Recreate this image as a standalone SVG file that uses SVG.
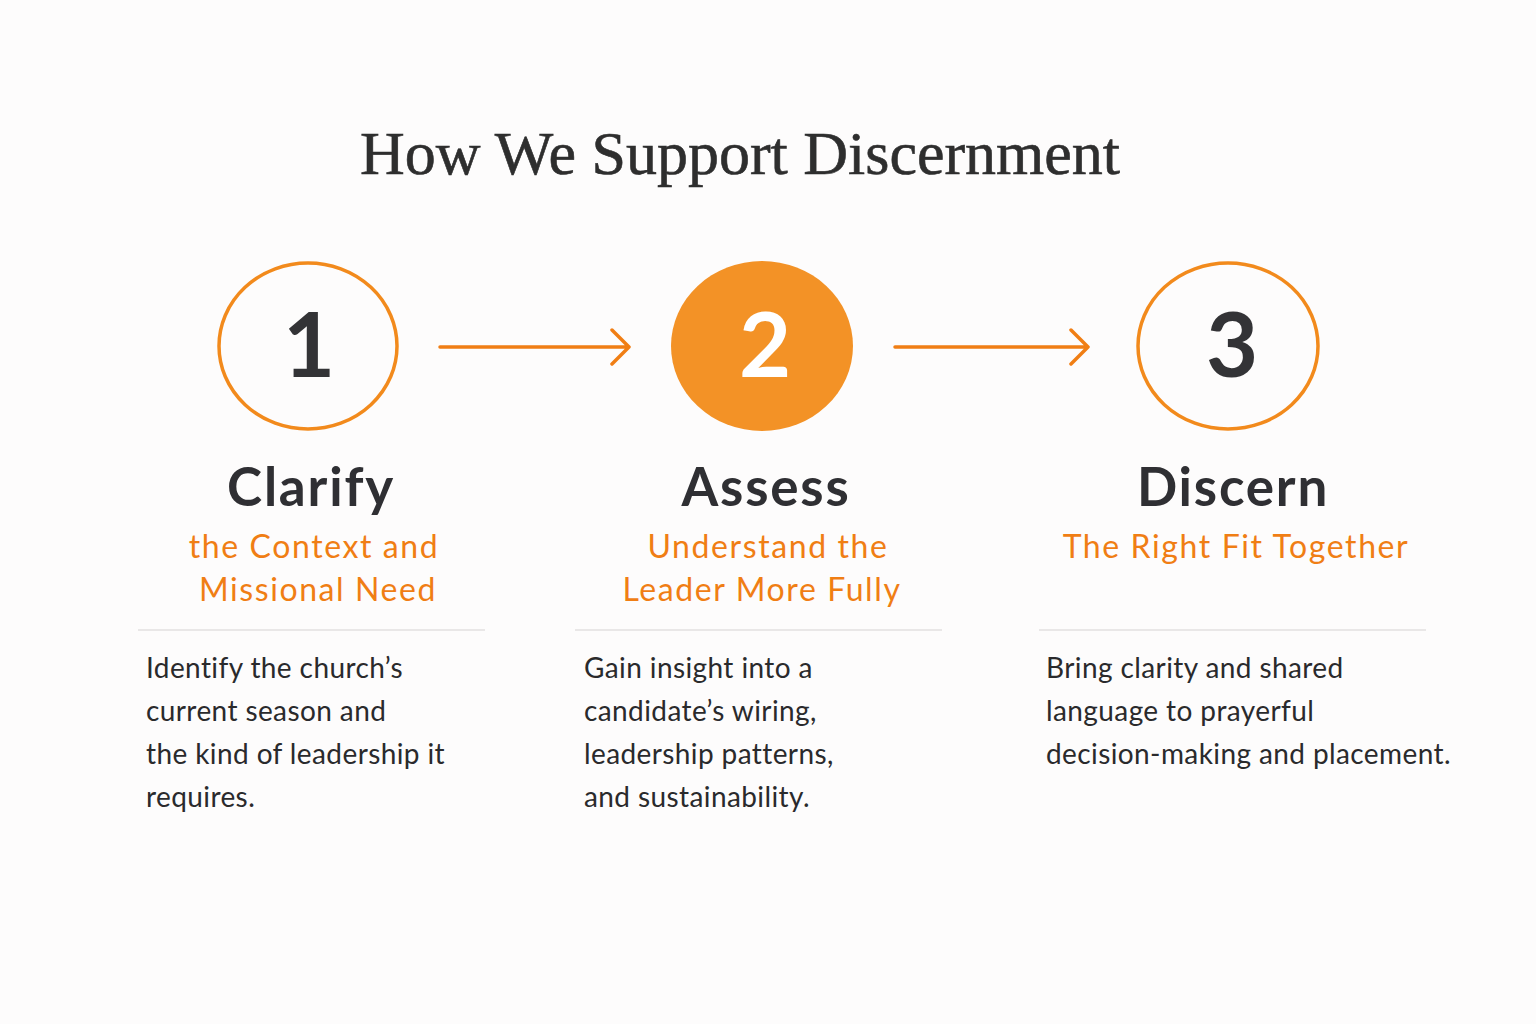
<svg xmlns="http://www.w3.org/2000/svg" width="1536" height="1024" viewBox="0 0 1536 1024">
<defs>
<style>
.title{font-family:"Liberation Serif","Times New Roman",serif;font-size:62px;fill:#2e2e2e;text-anchor:middle;stroke:#2e2e2e;stroke-width:0.6}
.ring{fill:none;stroke:#f28a1c;stroke-width:3.5}
.fill{fill:#f39226;stroke:none}
.num{font-family:"Lato","Open Sans",sans-serif;font-size:90px;font-weight:700;text-anchor:middle;fill:#333336}
.numw{fill:#ffffff}
.head{font-family:"Lato","Open Sans",sans-serif;font-size:53px;font-weight:700;fill:#2f2f33;text-anchor:middle;letter-spacing:1.8px}
.sub{font-family:"Lato","Open Sans",sans-serif;font-size:32px;fill:#f07e14;text-anchor:middle;letter-spacing:1.6px}
.body{font-family:"Lato","Open Sans",sans-serif;font-size:28px;fill:#2a2a2c;letter-spacing:0.4px}
.rule{stroke:#e2e0e0;stroke-width:1.5}
.conn{stroke:#f07e14;stroke-width:3.5;fill:none;stroke-linecap:round;stroke-linejoin:round}
</style>
</defs>
<rect width="1536" height="1024" fill="#fdfcfc"/>
<text class="title" x="740" y="174">How We Support Discernment</text>

<g id="connectors">
<path class="conn" d="M440 347 H629 M612 330 L629 347 L612 364"/>
<path class="conn" d="M895 347 H1088 M1071 330 L1088 347 L1071 364"/>
</g>

<g id="step1">
<ellipse class="ring" cx="308" cy="346" rx="89" ry="83"/>
<text class="num" x="309" y="377">1</text>
<text class="head" x="311" y="506">Clarify</text>
<text class="sub" x="314" y="558">the Context and</text>
<text class="sub" x="318" y="601">Missional Need</text>
<line class="rule" x1="138" y1="630" x2="485" y2="630"/>
<text class="body" x="146" y="678">Identify the church’s</text>
<text class="body" x="146" y="721">current season and</text>
<text class="body" x="146" y="764">the kind of leadership it</text>
<text class="body" x="146" y="807">requires.</text>
</g>

<g id="step2">
<ellipse class="fill" cx="762" cy="346" rx="91" ry="85"/>
<text class="num numw" x="765" y="377">2</text>
<text class="head" x="766" y="506">Assess</text>
<text class="sub" x="768" y="558">Understand the</text>
<text class="sub" x="762" y="601">Leader More Fully</text>
<line class="rule" x1="575" y1="630" x2="942" y2="630"/>
<text class="body" x="584" y="678">Gain insight into a</text>
<text class="body" x="584" y="721">candidate’s wiring,</text>
<text class="body" x="584" y="764">leadership patterns,</text>
<text class="body" x="584" y="807">and sustainability.</text>
</g>

<g id="step3">
<ellipse class="ring" cx="1228" cy="346" rx="90" ry="83"/>
<text class="num" x="1232" y="377">3</text>
<text class="head" x="1233" y="506">Discern</text>
<text class="sub" x="1236" y="558">The Right Fit Together</text>
<line class="rule" x1="1039" y1="630" x2="1426" y2="630"/>
<text class="body" x="1046" y="678">Bring clarity and shared</text>
<text class="body" x="1046" y="721">language to prayerful</text>
<text class="body" x="1046" y="764">decision-making and placement.</text>
</g>
</svg>
